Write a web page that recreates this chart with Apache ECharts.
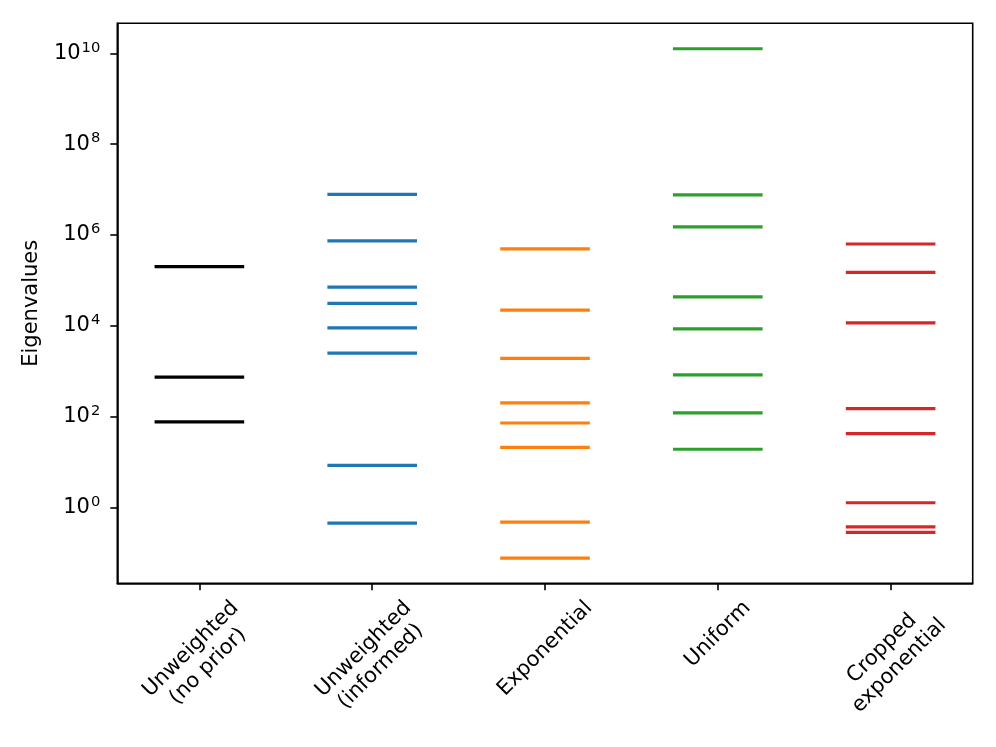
<!DOCTYPE html>
<html>
<head>
<meta charset="utf-8">
<script src="https://cdn.jsdelivr.net/npm/echarts@6/dist/echarts.min.js"></script>
<style>
html, body { margin: 0; padding: 0; background: #ffffff; }
#chart { width: 996px; height: 747px; }
</style>
</head>
<body>
<div id="chart"></div>
<script>
// ---- data ----
const categories = ['Unweighted\n(no prior)', 'Unweighted\n(informed)', 'Exponential', 'Uniform', 'Cropped\nexponential'];
const colors = ['#000000', '#1f77b4', '#ff7f0e', '#2ca02c', '#d62728'];
const unweightedNoPrior = [2.0e5, 740, 76];
const unweightedInformed = [7.8e6, 7.4e5, 7.1e4, 3.1e4, 9.0e3, 2.5e3, 8.4, 0.45];
const exponential = [4.9e5, 2.2e4, 1.9e3, 200, 72, 21, 0.47, 0.076];
const uniform = [1.26e10, 7.6e6, 1.5e6, 4.3e4, 8.5e3, 830, 120, 19];
const croppedExponential = [6.3e5, 1.5e5, 1.15e4, 149, 42, 1.26, 0.37, 0.28];
const yTickValues = [1, 1e2, 1e4, 1e6, 1e8, 1e10];
const xTickValues = [0, 1, 2, 3, 4];
const yMin = 0.0212;
const yMax = 4.58e10;
const xMin = -0.475;
const xMax = 4.475;
const halfWidth = 0.25;

const seriesValues = [unweightedNoPrior, unweightedInformed, exponential, uniform, croppedExponential];

const FONT = 'DejaVu Sans';
const FS = 21;

const chart = echarts.init(document.getElementById('chart'));

const option = {
  animation: false,
  backgroundColor: '#ffffff',
  textStyle: { fontFamily: FONT, color: '#000' },
  grid: {
    left: 117.3, right: 23.3, top: 23.3, bottom: 163.7,
    show: true, borderColor: '#000', borderWidth: 1.6,
    containLabel: false, outerBoundsMode: 'none'
  },
  xAxis: {
    type: 'value', min: xMin, max: xMax,
    axisLine: { show: true, onZero: false, lineStyle: { color: '#000', width: 1.6 } },
    axisTick: { show: true, customValues: xTickValues, length: 7, lineStyle: { color: '#000', width: 1.6 } },
    axisLabel: { show: false },
    splitLine: { show: false }
  },
  yAxis: {
    type: 'log', min: yMin, max: yMax,
    name: 'Eigenvalues', nameLocation: 'middle', nameGap: 75,
    nameTextStyle: { fontSize: FS, fontFamily: FONT, color: '#000' },
    axisLine: { show: true, onZero: false, lineStyle: { color: '#000', width: 1.6 } },
    axisTick: { show: true, customValues: yTickValues, length: 7, lineStyle: { color: '#000', width: 1.6 } },
    minorTick: { show: false },
    splitLine: { show: false },
    axisLabel: {
      customValues: yTickValues,
      margin: 17,
      formatter: function (v) {
        const e = Math.round(Math.log10(v));
        return '{b|10}{s|' + e + '}';
      },
      rich: {
        b: { fontSize: FS, lineHeight: FS, fontFamily: FONT, color: '#000' },
        s: { fontSize: 14.7, lineHeight: 15, fontFamily: FONT, color: '#000', padding: [0, 0, 11, 1] }
      }
    }
  },
  series: seriesValues.map(function (vals, i) {
    return {
      type: 'custom',
      name: categories[i],
      data: vals.map(function (v) { return [xTickValues[i], v]; }),
      encode: { x: 0, y: 1 },
      clip: true,
      renderItem: function (params, api) {
        const x = api.value(0), y = api.value(1);
        const p1 = api.coord([x - halfWidth, y]);
        const p2 = api.coord([x + halfWidth, y]);
        return {
          type: 'line',
          shape: { x1: p1[0], y1: p1[1], x2: p2[0], y2: p2[1] },
          style: { stroke: colors[i], lineWidth: 3.2, lineCap: 'square' }
        };
      }
    };
  })
};

chart.setOption(option);

// x-axis category labels, rotated 45deg and centred under each tick (matplotlib style)
const ctx = document.createElement('canvas').getContext('2d');
ctx.font = FS + 'px "' + FONT + '"';
const bottomY = chart.convertToPixel({ yAxisIndex: 0 }, yMin);
const topY = bottomY + 7 + 7.3;
const step = 1.16 * FS;
const graphics = categories.map(function (label, i) {
  const lines = label.split('\n');
  let W = 0;
  lines.forEach(function (l) { W = Math.max(W, ctx.measureText(l).width); });
  const H = (lines.length - 1) * step + 0.97 * FS;
  const cx = chart.convertToPixel({ xAxisIndex: 0 }, xTickValues[i]);
  const cy = topY + 0.7071 * (W + H) / 2;
  return {
    type: 'text',
    x: cx, y: cy,
    rotation: Math.PI / 4,
    silent: true,
    style: {
      text: label,
      fontSize: FS,
      fontFamily: FONT,
      fill: '#000',
      align: 'center',
      verticalAlign: 'middle',
      lineHeight: step
    }
  };
});
chart.setOption({ graphic: graphics });
</script>
</body>
</html>
